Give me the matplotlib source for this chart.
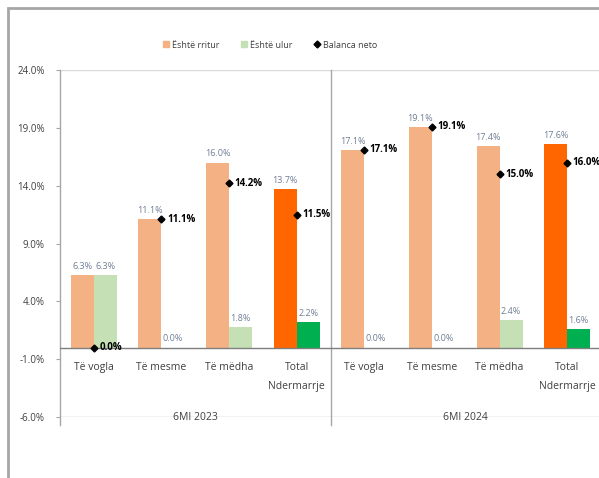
import numpy as np
import matplotlib
matplotlib.use("Agg")
import matplotlib.pyplot as plt
from matplotlib.lines import Line2D
from matplotlib.patches import Rectangle

plt.rcParams['font.family'] = ['Open Sans', 'DejaVu Sans']

groups = ['6MI 2023', '6MI 2024']
categories = ['Të vogla', 'Të mesme', 'Të mëdha', 'Total\nNdermarrje']
rritur = [6.3, 11.1, 16.0, 13.7, 17.1, 19.1, 17.4, 17.6]
ulur = [6.3, 0.0, 1.8, 2.2, 0.0, 0.0, 2.4, 1.6]
neto = [0.0, 11.1, 14.2, 11.5, 17.1, 19.1, 15.0, 16.0]
yticks = [-6, -1, 4, 9, 14, 19, 24]

c_rritur = '#F4B183'
c_ulur = '#C5E0B4'
c_rritur_tot = '#FF6600'
c_ulur_tot = '#00B050'
lbl_col = '#6F7F95'

fig = plt.figure(figsize=(5.99, 4.78), dpi=100)
# outer chart frame (left and top edges)
fig.patches.append(Rectangle((8 / 599, -0.05), 1.2, 1 - 8 / 478 + 0.05,
                             transform=fig.transFigure, fill=False,
                             edgecolor='#A6A6A6', linewidth=2))
ax = fig.add_axes([60 / 599, 1 - 417 / 478, 541 / 599, (417 - 70) / 478])

n = len(rritur)
x = np.arange(n)
w = 0.34
is_total = [(i % 4) == 3 for i in range(n)]
col_r = [c_rritur_tot if t else c_rritur for t in is_total]
col_u = [c_ulur_tot if t else c_ulur for t in is_total]

ax.bar(x - w / 2, rritur, w, color=col_r, zorder=2)
ax.bar(x + w / 2, ulur, w, color=col_u, zorder=2)
ax.plot(x, neto, 'D', color='black', markersize=3.5, linestyle='none', zorder=4)

for i in range(n):
    ax.annotate(f'{rritur[i]:.1f}%', (x[i] - w / 2, rritur[i]), xytext=(0, 3),
                textcoords='offset points', ha='center', va='bottom',
                fontsize=6.5, color=lbl_col)
    ax.annotate(f'{ulur[i]:.1f}%', (x[i] + w / 2, ulur[i]), xytext=(0, 3),
                textcoords='offset points', ha='center', va='bottom',
                fontsize=6.5, color=lbl_col)
    ax.annotate(f'{neto[i]:.1f}%', (x[i], neto[i]), xytext=(4, 0),
                textcoords='offset points', ha='left', va='center',
                fontsize=7, fontweight='bold', color='black', zorder=5)

# category labels below the zero line
for i in range(n):
    for k, line in enumerate(categories[i % 4].split('\n')):
        ax.annotate(line, (x[i], 0), xytext=(0, -20 - 19 * k),
                    textcoords='offset pixels', ha='center', va='center',
                    fontsize=7.5, color='#404040', annotation_clip=False)
for g, name in enumerate(groups):
    ax.text(1.5 + 4 * g, -6, name, ha='center', va='center',
            fontsize=7.5, color='#404040')

ax.set_xlim(-0.5, n - 0.5)
ax.set_ylim(-6, 24)
ax.set_yticks(yticks)
ax.set_yticklabels([f'{v:.1f}%' for v in yticks], fontsize=7, color='#404040')
ax.tick_params(axis='y', length=3, color='#A6A6A6', pad=8)
ax.set_xticks([])

ax.axhline(0, color='#7F7F7F', linewidth=1, zorder=3)
ax.axhline(24, color='#D9D9D9', linewidth=1)
ax.axhline(-6, color='#BFBFBF', linewidth=1)
ax.plot([3.5, 3.5], [-6.7, 24], color='#A6A6A6', linewidth=1, clip_on=False)
ax.plot([-0.5, -0.5], [-6.7, 24], color='#A6A6A6', linewidth=1, clip_on=False)
for s in ax.spines.values():
    s.set_visible(False)

handles = [
    Line2D([], [], marker='s', color=c_rritur, linestyle='none', markersize=5),
    Line2D([], [], marker='s', color=c_ulur, linestyle='none', markersize=5),
    Line2D([], [], marker='D', color='black', linestyle='none', markersize=3.5),
]
fig.legend(handles, ['Është rritur', 'Është ulur', 'Balanca neto'],
           loc='center', bbox_to_anchor=(0.45, 1 - 45 / 478), ncol=3,
           frameon=False, fontsize=6.5, labelcolor='#404040',
           columnspacing=2.2, handletextpad=0.2, handlelength=1)

fig.savefig('out.png', dpi=100)
